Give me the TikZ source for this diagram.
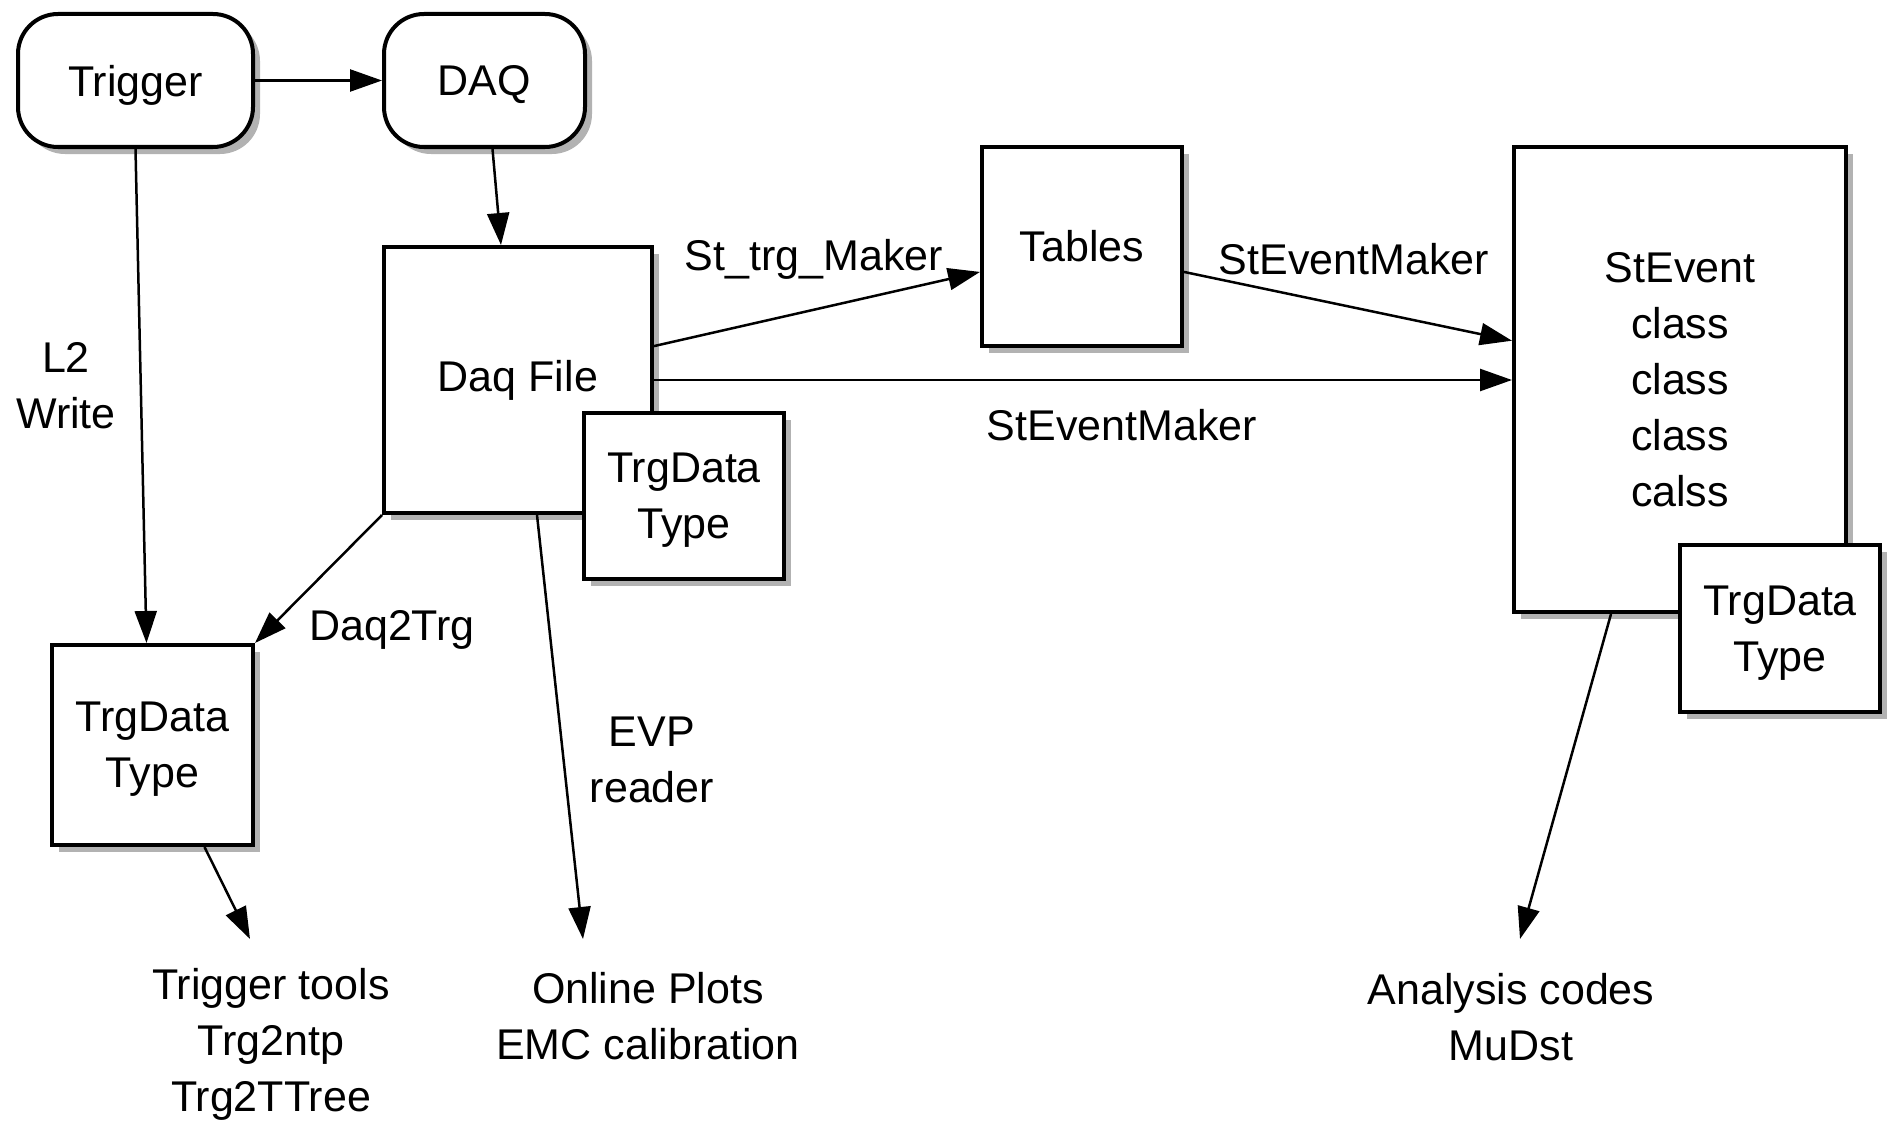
\documentclass[tikz,border=0pt]{standalone}
\usepackage{fontspec}
\setmainfont{Liberation Sans}
\usetikzlibrary{arrows.meta}
\usetikzlibrary{shadows}
\usetikzlibrary{calc}

\begin{document}
\begin{tikzpicture}[x=1pt, y=-1pt]
        % ================= styles =================
        \tikzset{
            % rounded process boxes (Trigger, DAQ)
            term/.style={draw=black, line width=4pt, fill=white, rounded corners=40pt, align=center,
                font=\fontsize{43}{56}\selectfont, inner sep=0pt, text depth=-4pt,
                drop shadow={shadow xshift=7pt, shadow yshift=-7pt, opacity=0.3, fill=black}},
            % plain data boxes
            box/.style={draw=black, line width=4pt, fill=white, align=center,
                font=\fontsize{43}{56}\selectfont, inner sep=0pt,
                drop shadow={shadow xshift=7pt, shadow yshift=-7pt, opacity=0.3, fill=black}},
            % text sits a little low in the multi-line boxes
            lowtext/.style={text depth=#1},
            % free text
            lbl/.style={align=center, font=\fontsize{43}{56}\selectfont, inner sep=0pt},
            % arrows
            flow/.style={line width=2.5pt, -{Triangle[length=32pt, width=22pt]}}
        }
        \useasboundingbox (0,0) rectangle (1892,1121);

        % ================= 1. top boxes =================
        \node[term, minimum width=235pt, minimum height=133pt] (trigger) at (135.5,80.5) {Trigger};
        \node[term, minimum width=201pt, minimum height=133pt] (daq) at (484.5,80.5) {DAQ};

        % ================= 2. data boxes =================
        \node[box, minimum width=268pt, minimum height=266pt] (daqfile) at (518,380) {Daq File};
        \node[box, lowtext=-6pt, minimum width=200pt, minimum height=166pt] (trgfile) at (684,496) {TrgData\\Type};
        \node[box, minimum width=200pt, minimum height=199pt] (tables) at (1082,246.5) {Tables};
        \node[box, lowtext=-14pt, minimum width=332pt, minimum height=465pt] (stevent) at (1680,379.5) {StEvent\\class\\class\\class\\calss};
        \node[box, lowtext=-6pt, minimum width=200pt, minimum height=167pt] (trgevent) at (1780,628.5) {TrgData\\Type};
        \node[box, lowtext=-6pt, minimum width=201pt, minimum height=200pt] (trgdata) at (152.5,745) {TrgData\\Type};

        % ================= 3. labels =================
        \node[lbl] (l2write) at (66,386) {L2\\Write};
        \node[lbl] (daqtrg) at (392,630) {Daq2Trg};
        \node[lbl] (sttrg) at (814,259) {St\_trg\_Maker};
        \node[lbl] (mkrtop) at (1354,259) {StEventMaker};
        \node[lbl] (mkrlow) at (1122,425) {StEventMaker};
        \node[lbl] (evp) at (652,760) {EVP\\reader};
        \node[lbl] (tools) at (271,1044) {Trigger tools\\Trg2ntp\\Trg2TTree};
        \node[lbl] (online) at (648,1016) {Online Plots\\EMC calibration};
        \node[lbl] (analysis) at (1511,1017) {Analysis codes\\MuDst};

        % free arrow ends
        \coordinate (toolsend) at (250,939);
        \coordinate (onlineend) at (583,939);
        \coordinate (analysisend) at (1520,939);

        % ================= 4. arrows =================
        \draw[flow] (trigger.east) -- (daq.west);
        \draw[flow] (trigger.south) -- ($(trgdata.north)+(-6,0)$);
        \draw[flow] ($(daq.south)+(8,0)$) -- ($(daqfile.north)+(-17,0)$);
        \draw[flow] (daqfile.14) -- (tables.194);
        \draw[flow] (daqfile.east) -- (stevent.west |- daqfile.east);
        \draw[flow] (tables.-14) -- (stevent.167);
        \draw[flow] (daqfile.south west) -- (trgdata.north east);
        \draw[flow] ($(daqfile.south)+(19,0)$) -- (onlineend);
        \draw[flow] ($(trgdata.south)+(52,0)$) -- (toolsend);
        \draw[flow] ($(stevent.south)+(-69,0)$) -- (analysisend);

    \end{tikzpicture}
\end{document}
